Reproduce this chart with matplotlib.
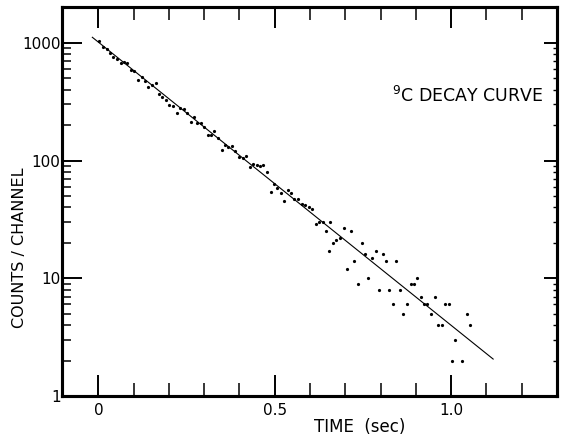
import matplotlib
matplotlib.use('Agg')
import matplotlib.pyplot as plt
from matplotlib.ticker import LogLocator, NullFormatter

# channel time (s) and counts
time_s = [0.003, 0.014, 0.024, 0.033, 0.042, 0.052, 0.063, 0.073, 0.082, 0.092,
          0.101, 0.113, 0.123, 0.132, 0.142, 0.153, 0.163, 0.172, 0.181, 0.191,
          0.201, 0.212, 0.222, 0.231, 0.243, 0.250, 0.262, 0.271, 0.280, 0.290,
          0.299, 0.310, 0.319, 0.329, 0.340, 0.350, 0.359, 0.368, 0.378, 0.387,
          0.400, 0.409, 0.418, 0.430, 0.439, 0.449, 0.458, 0.467, 0.477, 0.488,
          0.498, 0.507, 0.517, 0.526, 0.537, 0.546, 0.555, 0.567, 0.576, 0.586,
          0.597, 0.606, 0.617, 0.626, 0.636, 0.645, 0.654, 0.656, 0.666, 0.675,
          0.685, 0.697, 0.705, 0.716, 0.725, 0.735, 0.746, 0.756, 0.765, 0.776,
          0.786, 0.795, 0.806, 0.815, 0.824, 0.834, 0.845, 0.855, 0.864, 0.874,
          0.885, 0.894, 0.904, 0.914, 0.923, 0.932, 0.943, 0.954, 0.963, 0.973,
          0.982, 0.993, 1.003, 1.012, 1.031, 1.044, 1.053]
counts = [1038, 929, 883, 816, 755, 730, 671, 692, 679, 589,
          577, 484, 510, 474, 425, 439, 459, 368, 345, 327,
          297, 291, 252, 278, 276, 255, 214, 236, 210, 210,
          194, 165, 166, 178, 155, 123, 136, 131, 133, 120,
          107, 105, 109, 89, 94, 91, 90, 91, 80, 54,
          63, 59, 53, 45, 56, 53, 47, 47, 43, 42,
          40, 39, 29, 30, 30, 25, 17, 30, 20, 21,
          22, 27, 12, 25, 14, 9, 20, 16, 10, 15,
          17, 8, 16, 14, 8, 6, 14, 8, 5, 6,
          9, 9, 10, 7, 6, 6, 5, 7, 4, 4,
          6, 6, 2, 3, 2, 5, 4]

# fitted line end points
fit_time = [-0.017, 1.119]
fit_counts = [1116, 2.06]

x_major = [0, 0.5, 1.0]
x_major_labels = ['0', '0.5', '1.0']
x_minor = [0.1, 0.2, 0.3, 0.4, 0.6, 0.7, 0.8, 0.9, 1.1, 1.2]
y_major = [1, 10, 100, 1000]
y_major_labels = ['1', '10', '100', '1000']

fig = plt.figure(figsize=(5.61, 4.38), dpi=100)
ax = fig.add_axes([0.1105, 0.0959, 0.8824, 0.8881])
ax.set_yscale('log')

ax.plot(time_s, counts, 'o', ms=2.3, color='black', mew=0)
ax.plot(fit_time, fit_counts, '-', color='black', lw=0.8)

ax.set_xlim(-0.103, 1.30)
ax.set_ylim(1, 2018)

ax.set_xticks(x_major)
ax.set_xticklabels(x_major_labels)
ax.set_xticks(x_minor, minor=True)
ax.set_yticks(y_major)
ax.set_yticklabels(y_major_labels)
ax.yaxis.set_minor_locator(LogLocator(base=10, subs=range(2, 10)))
ax.yaxis.set_minor_formatter(NullFormatter())

ax.tick_params(axis='x', which='major', direction='in', top=True, length=15, width=1.4, labelsize=11, pad=5)
ax.tick_params(axis='x', which='minor', direction='in', top=True, length=9.5, width=1.1)
ax.tick_params(axis='y', which='major', direction='in', right=False, length=14.4, width=1.4, labelsize=11, pad=1)
ax.tick_params(axis='y', which='minor', direction='in', right=False, length=6.5, width=1.1)

# right side has shorter ticks
ax2 = ax.twinx()
ax2.set_yscale('log')
ax2.set_ylim(ax.get_ylim())
ax2.set_yticks(y_major)
ax2.set_yticklabels([])
ax2.yaxis.set_minor_locator(LogLocator(base=10, subs=range(2, 10)))
ax2.yaxis.set_minor_formatter(NullFormatter())
ax2.tick_params(axis='y', which='major', direction='in', length=9.4, width=1.4)
ax2.tick_params(axis='y', which='minor', direction='in', length=3, width=1.0)

for a in (ax, ax2):
  for sp in a.spines.values():
    sp.set_linewidth(2.2)

ax.set_xlabel('TIME  (sec)', fontsize=12)
ax.xaxis.set_label_coords(0.602, -0.0566)
ax.set_ylabel('COUNTS / CHANNEL', fontsize=11.5)
ax.yaxis.set_label_coords(-0.07, 0.38)

ax.text(0.667, 0.771, '$^9$C DECAY CURVE', transform=ax.transAxes, fontsize=12.5, va='center', ha='left')

fig.savefig('out.png', dpi=100)
